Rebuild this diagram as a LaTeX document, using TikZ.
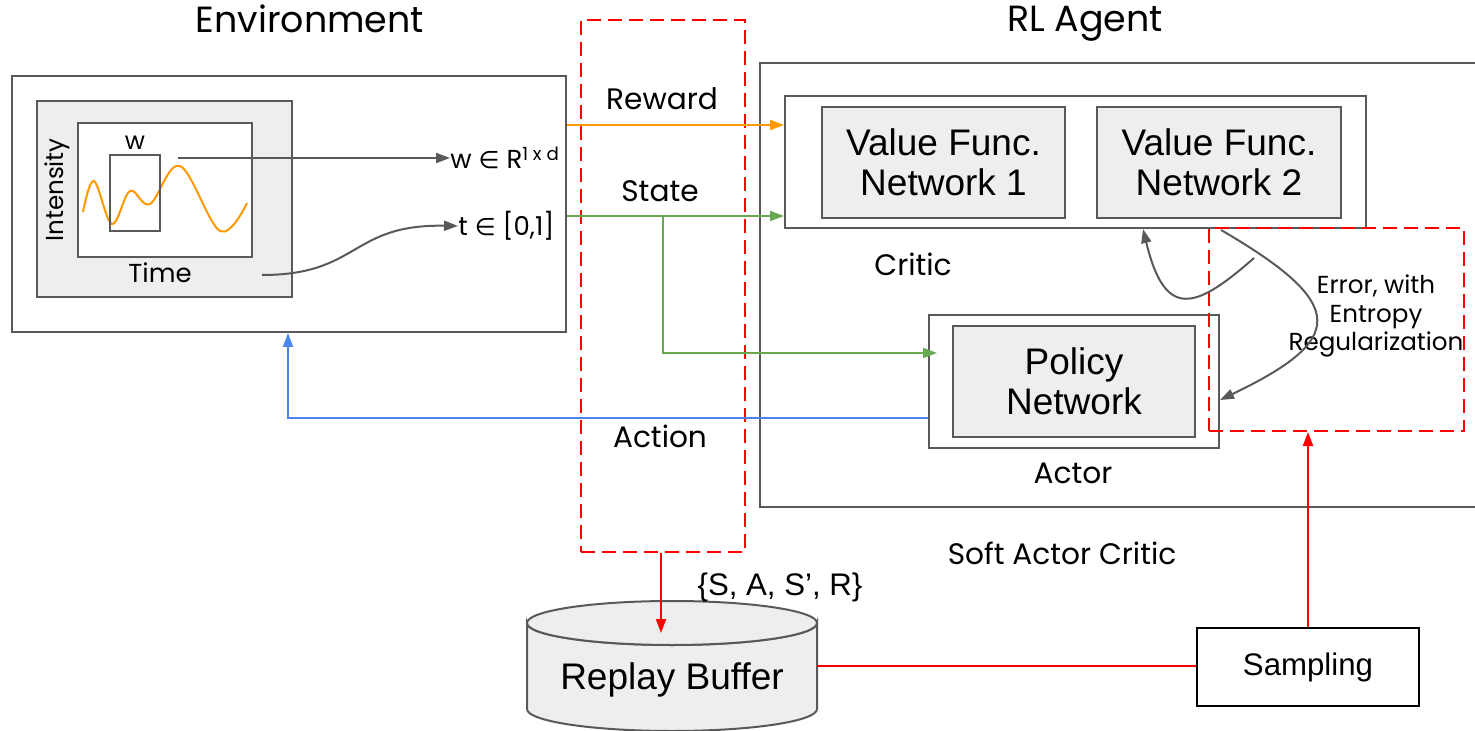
\documentclass[tikz,border=0pt]{standalone}
\usepackage{fontspec}
\setmainfont{Poppins}
\newfontfamily\arial{Liberation Sans}
\newfontfamily\symfont{DejaVu Sans}
\usetikzlibrary{arrows.meta,fit}

\definecolor{linegray}{HTML}{595959}
\definecolor{boxfill}{HTML}{EEEEEE}
\definecolor{sigorange}{HTML}{FF9900}
\definecolor{stategreen}{HTML}{6AA84F}
\definecolor{actblue}{HTML}{4A86E8}

\begin{document}
\begin{tikzpicture}[x=0.5pt,y=-0.5pt,
  frame/.style={draw=linegray, line width=1pt, inner sep=0pt},
  netbox/.style={frame, fill=boxfill},
  nettext/.style={font=\arial\fontsize{18.5}{20}\selectfont, align=center, inner sep=0pt},
  lbl/.style={font=\fontsize{14.8}{17}\selectfont, inner sep=0pt, anchor=base},
  small/.style={font=\fontsize{12.3}{14}\selectfont, inner sep=0pt},
  title/.style={font=\fontsize{18.2}{21}\selectfont, inner sep=0pt, anchor=base},
  tip/.style={-{Triangle[length=7pt,width=5pt]}},
  conn/.style={line width=1pt},
  reddash/.style={draw=red, line width=1pt, dash pattern=on 7pt off 3.5pt},
]
\useasboundingbox (0,0) rectangle (1475,731);

% ---------------- Environment ----------------
\node[title] (envtitle) at (310,33) {Environment};
\node[frame, fit={(12,76) (566,332)}] (env) {};
\node[frame, fill=boxfill, fit={(37,101) (292,297)}] (sig) {};
\node[frame, fill=white, fit={(78,123) (252,257)}] (plot) {};
\draw[sigorange, line width=1pt] plot[smooth, tension=0.6] coordinates
  {(83,212) (94,181) (112,224) (130,191) (150,204) (180,166) (220,231) (247,203)};
\node[frame, fit={(110,155) (160,231)}] (win) {};
\node[small] (wlbl) at (135,143) {w};
\node[small, rotate=90] (intens) at (57,190) {Intensity};
\node[lbl, font=\fontsize{13}{16}\selectfont] (timelbl) at (160,283) {Time};
\coordinate (wsrc) at (178,158);
\coordinate (tsrc) at (262,275);
\node[font=\fontsize{13}{16}\selectfont, inner sep=0pt, anchor=west] (wvec) at (450,158)
  {w {\symfont\fontsize{12}{14}\selectfont ∈} R\textsuperscript{1 x d}};
\node[font=\fontsize{13}{16}\selectfont, inner sep=0pt, anchor=west] (tval) at (458,226)
  {t {\symfont\fontsize{12}{14}\selectfont ∈} [0,1]};
\draw[conn, linegray, tip] (wsrc) -- (wvec.west);
\draw[conn, linegray, tip] (tsrc) .. controls (360,275) and (350,224) .. (tval.west);

% ---------------- transition window ----------------
\node[reddash, fit={(581,20) (745,552)}, inner sep=0pt] (trans) {};
\node[lbl] (rewardlbl) at (662,110) {Reward};
\node[lbl] (statelbl) at (660,202) {State};
\node[lbl] (actionlbl) at (660,447) {Action};

% ---------------- RL Agent ----------------
\node[title] (agenttitle) at (1085,32) {RL Agent};
\draw[conn, linegray] (1480,63) -| (760,507) -- (1480,507);
\node[frame, fill=white, fit={(785,96) (1366,228)}] (critic) {};
\node[netbox, fit={(822,107) (1065,218)}] (vf1) {};
\node[nettext] (vf1txt) at (vf1.center) {Value Func.\\Network 1};
\node[netbox, fit={(1097,107) (1341,218)}] (vf2) {};
\node[nettext] (vf2txt) at (vf2.center) {Value Func.\\Network 2};
\node[lbl] (criticlbl) at (913,276) {Critic};
\node[frame, fill=white, fit={(929,315) (1219,448)}] (actor) {};
\node[netbox, fit={(953,326) (1195,437)}] (policy) {};
\node[nettext] (policytxt) at (policy.center) {Policy\\Network};
\node[lbl] (actorlbl) at (1073,483) {Actor};
\node[lbl] (saclbl) at (1062,564) {Soft Actor Critic};

\node[reddash, fit={(1209,228) (1464,431)}, inner sep=0pt] (errbox) {};
\node[small, align=center, font=\fontsize{12.3}{14.25}\selectfont] (errlbl) at (1376,316)
  {Error, with\\Entropy\\Regularization};

% ---------------- connectors: reward, state, action ----------------
\draw[conn, sigorange, tip] (env.east |- 0,125) -- (critic.west |- 0,125);
\draw[conn, stategreen, tip] (env.east |- 0,216) -- (critic.west |- 0,216);
\coordinate (split) at (663,216);
\coordinate (bend) at (663,353);
\draw[conn, stategreen, tip] (split) -- (bend) -- (937,353);
\coordinate (actturn) at (288,418);
\draw[conn, actblue, tip] (actor.west |- 0,418) -- (actturn) -- (env.south -| actturn);

% ---------------- error feedback ----------------
\coordinate (errstart) at (1221,230);
\coordinate (errsplit) at (1254,258);
\draw[conn, linegray, tip] (errstart) .. controls (1350,305) and (1345,340) .. (actor.east |- 0,400);
\draw[conn, linegray, tip] (errsplit) .. controls (1195,310) and (1165,320) .. (1143,229);

% ---------------- replay buffer (cylinder) and sampling ----------------
\path[draw=linegray, fill=boxfill, line width=1pt]
  (527,623) -- (527,709) arc[start angle=180, end angle=0, x radius=145, y radius=22]
  -- (817,623) arc[start angle=0, end angle=180, x radius=145, y radius=22] -- cycle;
\draw[linegray, fill=boxfill, line width=1pt] (672,623) ellipse[x radius=145, y radius=22];
\node[inner sep=0pt, minimum width=145pt, minimum height=65pt] (buffer) at (672,666) {};
\node[nettext] (buflbl) at (672,680) {Replay Buffer};
\node[font=\arial\fontsize{15.6}{18}\selectfont, inner sep=0pt] (tuple) at (780,587) {\{S, A, S’, R\}};
\node[draw=black, line width=1pt, fit={(1197,628) (1419,706)}, inner sep=0pt] (sampling) {};
\node[font=\arial\fontsize{15.6}{18}\selectfont, inner sep=0pt] (samplingtxt) at (sampling.center) {Sampling};

\coordinate (bufin) at (661,633);
\draw[conn, red, tip] (trans.south -| bufin) -- (bufin);
\draw[conn, red] (buffer.east) -- (sampling.west |- buffer.east);
\draw[conn, red, tip] (sampling.north) -- (errbox.south -| sampling.north);
\end{tikzpicture}
\end{document}
